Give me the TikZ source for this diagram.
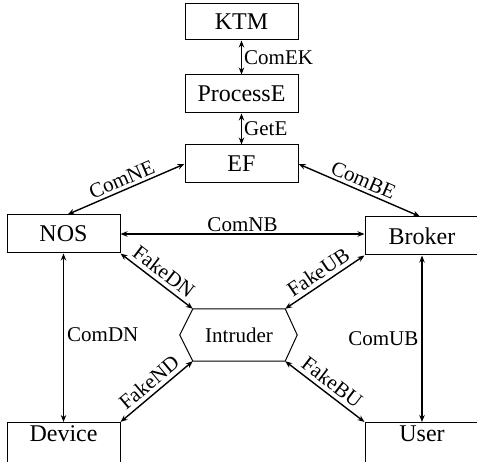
\documentclass[tikz,border=0pt]{standalone}
\usepackage{fontspec}
\setmainfont{Liberation Serif}
\usetikzlibrary{arrows.meta,calc}

\tikzset{
  box/.style={draw, line width=1pt, inner sep=0pt, minimum width=113pt,
              minimum height=38pt, font=\fontsize{24}{28}\selectfont},
  lowbox/.style={box, text height=19.5pt, text depth=30pt, minimum height=0pt},
  link/.style={{Stealth[length=7pt,width=5.5pt]}-{Stealth[length=7pt,width=5.5pt]}, line width=1.4pt},
  lbl/.style={font=\fontsize{21}{24}\selectfont, inner sep=1pt}
}

\begin{document}
\begin{tikzpicture}[x=1pt, y=-1pt]
  \useasboundingbox (0,0) rectangle (477,462);

  % top chain
  \node[box, minimum height=36pt] (ktm) at (241.5,22) {KTM};
  \node[box] (proc) at (241.5,94) {ProcessE};
  \node[box] (ef)   at (241.5,164) {EF};

  % middle row
  \node[box] (nos)    at (63.5,234) {NOS};
  \node[box, minimum width=114pt] (broker) at (422,236) {Broker};

  % bottom row (boxes run past the lower edge)
  \node[lowbox, anchor=north] (device) at (63.5,422) {Device};
  \node[lowbox, minimum width=114pt, anchor=north] (user) at (422,422) {User};

  % intruder hexagon
  \node[inner sep=0pt, minimum width=92pt, minimum height=52pt,
        font=\fontsize{21}{24}\selectfont] (intr) at (239,335) {Intruder};
  \draw[line width=1pt] (intr.north west) -- (intr.north east)
    -- ($(intr.east)+(12,0)$) -- (intr.south east) -- (intr.south west)
    -- ($(intr.west)+(-13,0)$) -- cycle;

  % connectors
  \draw[link] (ktm) -- node[lbl, right=1pt] {ComEK} (proc);
  \draw[link] (proc) -- node[lbl, right=1pt] {GetE} (ef);
  \draw[link] (ef.west) -- node[lbl, sloped, above=2pt] {ComNE} ([xshift=4pt]nos.north);
  \draw[link] (ef.east) -- node[lbl, sloped, above=2pt] {ComBE} ([xshift=-2pt]broker.north);
  \draw[link] (nos.east) -- node[lbl, above=1pt] {ComNB} (broker.west |- nos.east);
  \draw[link] (nos) -- node[lbl, pos=0.48, right=2pt] {ComDN} (device);
  \draw[link] (broker) -- node[lbl, pos=0.5, left=2pt] {ComUB} (user);
  \draw[link] (nos.south east) -- node[lbl, sloped, above=3pt] {FakeDN} (intr.north west);
  \draw[link] (broker.south west) -- node[lbl, sloped, above=3pt] {FakeUB} (intr.north east);
  \draw[link] (device.north east) -- node[lbl, sloped, above=3pt] {FakeND} (intr.south west);
  \draw[link] (user.north west) -- node[lbl, sloped, above=3pt] {FakeBU} (intr.south east);
\end{tikzpicture}
\end{document}
